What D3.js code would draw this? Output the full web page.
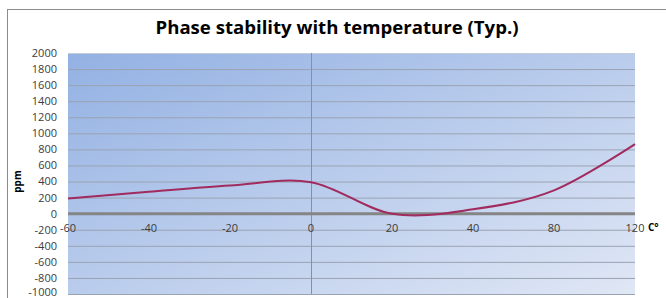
<!DOCTYPE html>
<meta charset="utf-8">
<style>
body { margin: 0; background: #fff; }
.tick-label { font-family: "Open Sans", sans-serif; font-size: 11px; fill: #3c3c3c; }
.title { font-family: "Open Sans", sans-serif; font-size: 18.6px; font-weight: 700; fill: #000; text-anchor: middle; }
.axis-name { font-family: "Open Sans", sans-serif; font-size: 10px; font-weight: 700; fill: #000; }
</style>
<body>
<script src="https://d3js.org/d3.v7.min.js"></script>
<script>
// temperature categories (evenly spaced in the original, not linear)
var categories = ["-60", "-40", "-20", "0", "20", "40", "80", "120"];
var ppm = [188, 272, 350, 392, -2, 55, 290, 866];
var yTicks = [2000, 1800, 1600, 1400, 1200, 1000, 800, 600, 400, 200, 0, -200, -400, -600, -800, -1000];

var w = 666, h = 298;
var pLeft = 68, pRight = 635, pTop = 53, pBottom = 294;

var svg = d3.select("body").append("svg")
    .attr("width", w)
    .attr("height", h);

var defs = svg.append("defs");
var grad = defs.append("linearGradient")
    .attr("id", "bg")
    .attr("x1", "0%").attr("y1", "0%")
    .attr("x2", "100%").attr("y2", "100%");
grad.append("stop").attr("offset", "0%").attr("stop-color", "#93b1e3");
grad.append("stop").attr("offset", "100%").attr("stop-color", "#e0e7f5");

// chart frame
svg.append("rect")
    .attr("x", 7.5).attr("y", 9.5)
    .attr("width", 700).attr("height", 320)
    .attr("fill", "none")
    .attr("stroke", "#8c8c8c");

var x = d3.scalePoint().domain(categories).range([pLeft, pRight]);
var y = d3.scaleLinear().domain([-1000, 2000]).range([pBottom, pTop]);

svg.append("rect")
    .attr("x", pLeft).attr("y", pTop)
    .attr("width", pRight - pLeft).attr("height", pBottom - pTop)
    .attr("fill", "url(#bg)");

// gridlines
svg.append("g").selectAll("line")
    .data(yTicks.filter(function(d){ return d !== 0; }))
    .enter().append("line")
    .attr("x1", pLeft).attr("x2", pRight)
    .attr("y1", function(d){ return y(d) + 0.5; })
    .attr("y2", function(d){ return y(d) + 0.5; })
    .attr("stroke", function(d){ return d === 2000 ? "#c4ccd8" : "#9aa3b2"; })
    .attr("stroke-width", 1);

// vertical axis line at 0
svg.append("line")
    .attr("x1", x("0") + 0.5).attr("x2", x("0") + 0.5)
    .attr("y1", pTop).attr("y2", pBottom)
    .attr("stroke", "#8a8f98");

// zero line
svg.append("line")
    .attr("x1", pLeft).attr("x2", pRight)
    .attr("y1", y(0)).attr("y2", y(0))
    .attr("stroke", "#858585")
    .attr("stroke-width", 3);

// y tick labels
svg.append("g").selectAll("text")
    .data(yTicks)
    .enter().append("text")
    .attr("class", "tick-label")
    .attr("x", 57)
    .attr("y", function(d){ return Math.min(y(d), 292); })
    .attr("dy", "0.36em")
    .attr("text-anchor", "end")
    .text(function(d){ return d; });

// x tick labels
svg.append("g").selectAll("text")
    .data(categories)
    .enter().append("text")
    .attr("class", "tick-label")
    .attr("x", function(d){ return x(d); })
    .attr("y", y(0) + 14)
    .attr("dy", "0.36em")
    .attr("text-anchor", "middle")
    .text(function(d){ return d; });

// curve
var line = d3.line()
    .x(function(d, i){ return x(categories[i]); })
    .y(function(d){ return y(d); })
    .curve(d3.curveCardinal.tension(0));

svg.append("path")
    .datum(ppm)
    .attr("d", line)
    .attr("fill", "none")
    .attr("stroke", "#a12b5e")
    .attr("stroke-width", 2);

svg.append("text")
    .attr("class", "title")
    .attr("x", 337)
    .attr("y", 34)
    .text("Phase stability with temperature (Typ.)");

svg.append("text")
    .attr("class", "axis-name")
    .attr("transform", "translate(21," + y(400) + ") rotate(-90)")
    .attr("text-anchor", "middle")
    .text("ppm");

svg.append("text")
    .attr("class", "axis-name")
    .attr("x", 648)
    .attr("y", y(0) + 17)
    .text("C°");
</script>
</body>
